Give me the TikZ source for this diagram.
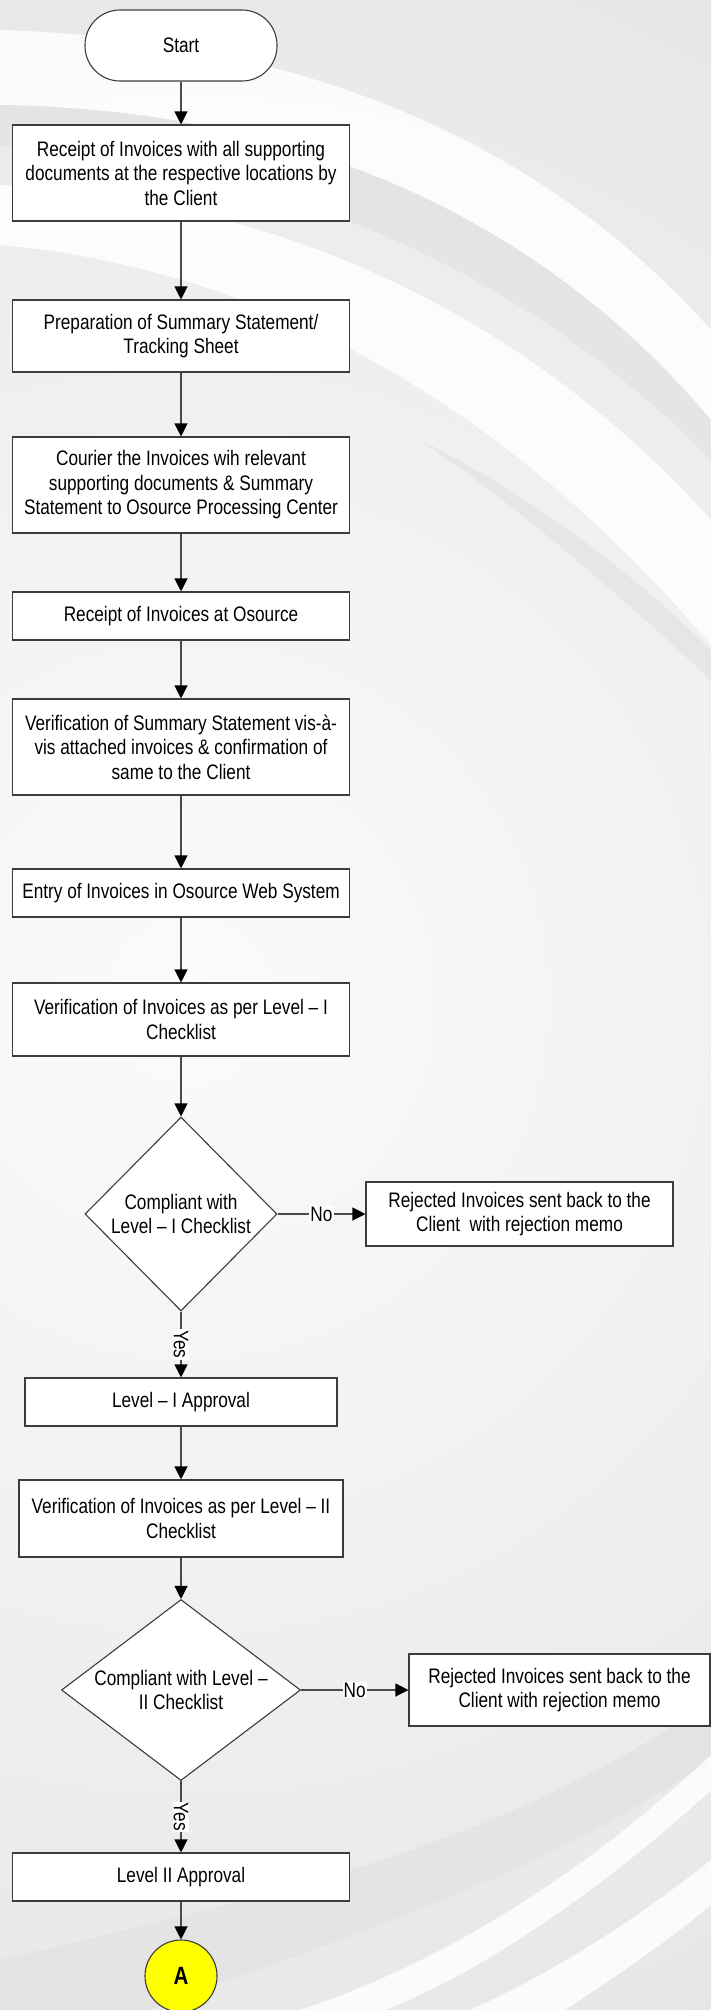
\documentclass[tikz,border=0pt]{standalone}
\usepackage{fontspec}
\setmainfont{Liberation Sans}[FakeStretch=0.82]
\usetikzlibrary{shapes.geometric,arrows.meta}
\definecolor{bginner}{HTML}{FBFBFB}
\definecolor{bgouter}{HTML}{DCDCDC}
\definecolor{bandgray}{HTML}{E0E0E0}
\definecolor{boxline}{HTML}{3C3C3C}
\definecolor{connline}{HTML}{4A4A4A}
\definecolor{markyellow}{HTML}{FFFF00}
\begin{document}
\begin{tikzpicture}[x=1pt,y=-1pt,
  every node/.style={font=\fontsize{21}{24.5}\selectfont},
  procbox/.style={rectangle,draw=boxline,line width=1.1pt,fill=white,inner sep=0pt,align=center,minimum width=337pt},
  termbox/.style={rectangle,rounded corners=35pt,draw=boxline,line width=1.1pt,fill=white,inner sep=0pt,minimum width=192pt,minimum height=71pt},
  decision/.style={diamond,draw=boxline,line width=1.1pt,fill=white,inner sep=0pt,align=center},
  connector/.style={draw=connline,line width=1.1pt,-{Triangle[width=13pt,length=13pt,color=black]}},
  lbl/.style={fill=white,inner sep=1pt},
  swoosh/.style={fill=white,opacity=0.85},
  darkband/.style={fill=bandgray,opacity=0.6}
]
\useasboundingbox (0,0) rectangle (711,2010);
% ---------- background ----------
\begin{scope}
\clip (0,0) rectangle (711,2010);
\fill[bgouter] (0,0) rectangle (711,2010);
\shade[inner color=bginner,outer color=bgouter] (190,1000) circle (1700pt);
% top ribbons
\fill[swoosh] (0,30) .. controls (330,40) and (560,160) .. (711,330)
   -- (711,420) .. controls (560,240) and (330,110) .. (0,105) -- cycle;
\fill[darkband] (0,105) .. controls (330,110) and (560,240) .. (711,420)
   -- (711,460) .. controls (540,285) and (300,165) .. (0,145) -- cycle;
\fill[swoosh] (0,185) .. controls (300,200) and (540,330) .. (711,520)
   -- (711,645) .. controls (520,420) and (280,270) .. (0,245) -- cycle;
\fill[darkband] (420,440) .. controls (540,500) and (640,580) .. (711,650)
   -- (711,680) .. controls (630,605) and (530,515) .. (420,440) -- cycle;
% bottom ribbons
\fill[darkband] (0,1960) .. controls (250,1900) and (500,1850) .. (711,1700)
   -- (711,1760) .. controls (520,1890) and (300,1950) .. (150,2010) -- (0,2010) -- cycle;
\fill[swoosh] (300,2010) .. controls (480,1950) and (620,1840) .. (711,1755)
   -- (711,1790) .. controls (630,1865) and (500,1965) .. (385,2010) -- cycle;
\fill[swoosh] (470,2010) .. controls (580,1960) and (660,1900) .. (711,1860)
   -- (711,1905) .. controls (670,1940) and (610,1980) .. (565,2010) -- cycle;
\end{scope}
% ---------- nodes ----------
\node[termbox] (start) at (181,45.5) {Start};
\node[procbox,minimum height=96pt] (b1) at (181,173) {Receipt of Invoices with all supporting\\documents at the respective locations by\\the Client};
\node[procbox,minimum height=72pt] (b2) at (181,336) {Preparation of Summary Statement/\\Tracking Sheet};
\node[procbox,minimum height=96pt] (b3) at (181,485) {Courier the Invoices wih relevant\\supporting documents \& Summary\\Statement to Osource Processing Center};
\node[procbox,minimum height=48pt] (b4) at (181,616) {Receipt of Invoices at Osource};
\node[procbox,minimum height=96pt] (b5) at (181,747) {Verification of Summary Statement vis-à-\\vis attached invoices \& confirmation of\\same to the Client};
\node[procbox,minimum height=48pt] (b6) at (181,893) {Entry of Invoices in Osource Web System};
\node[procbox,minimum height=73pt] (b7) at (181,1019.5) {Verification of Invoices as per Level – I\\Checklist};
\node[decision,aspect=1,minimum width=192pt,minimum height=194pt] (d1) at (181,1214) {Compliant with\\Level – I Checklist};
\node[procbox,minimum width=307pt,minimum height=64pt] (r1) at (519.5,1214) {Rejected Invoices sent back to the\\Client\ \ with rejection memo};
\node[procbox,minimum width=312pt,minimum height=48pt] (b8) at (181,1402) {Level – I Approval};
\node[procbox,minimum width=324pt,minimum height=77pt] (b9) at (181,1518.5) {Verification of Invoices as per Level – II\\Checklist};
\node[decision,aspect=1.6,minimum width=239pt,minimum height=181pt] (d2) at (181,1690) {Compliant with Level –\\II Checklist};
\node[procbox,minimum width=301pt,minimum height=72pt] (r2) at (559.5,1690) {Rejected Invoices sent back to the\\Client with rejection memo};
\node[procbox,minimum height=48pt] (b10) at (181,1877) {Level II Approval};
\node[circle,draw=boxline,line width=1.1pt,fill=markyellow,minimum size=72pt,inner sep=0pt,font=\fontsize{25}{25}\bfseries\selectfont] (A) at (181,1976) {A};
% ---------- connectors ----------
\draw[connector] (start.south) -- (b1.north);
\draw[connector] (b1.south) -- (b2.north);
\draw[connector] (b2.south) -- (b3.north);
\draw[connector] (b3.south) -- (b4.north);
\draw[connector] (b4.south) -- (b5.north);
\draw[connector] (b5.south) -- (b6.north);
\draw[connector] (b6.south) -- (b7.north);
\draw[connector] (b7.south) -- (d1.north);
\draw[connector] (d1.east) -- node[lbl,pos=0.5] {No} (r1.west);
\draw[connector] (d1.south) -- node[lbl,pos=0.5,rotate=-90] {Yes} (b8.north);
\draw[connector] (b8.south) -- (b9.north);
\draw[connector] (b9.south) -- (d2.north);
\draw[connector] (d2.east) -- node[lbl,pos=0.5] {No} (r2.west);
\draw[connector] (d2.south) -- node[lbl,pos=0.5,rotate=-90] {Yes} (b10.north);
\draw[connector] (b10.south) -- (A.north);
\end{tikzpicture}
\end{document}
